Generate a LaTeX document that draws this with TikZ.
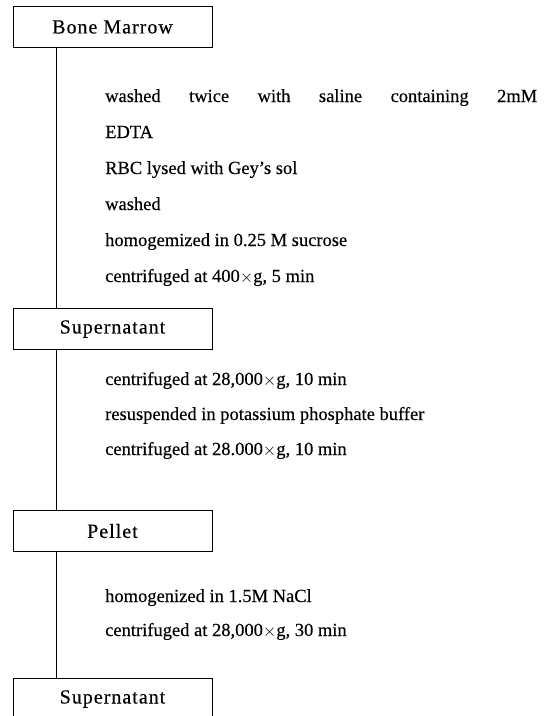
\documentclass[tikz,border=0pt]{standalone}
\usepackage{fontspec}
\setmainfont[FakeBold=0.3]{Liberation Serif}
\newfontfamily\labelfont[LetterSpace=5,FakeBold=0.3]{Liberation Serif}
\begin{document}
\begin{tikzpicture}[x=1pt,y=-1pt,
	stage/.style={draw, line width=1pt, minimum width=199pt, minimum height=41pt, inner sep=0pt, font=\labelfont\fontsize{20}{22}\selectfont},
	treat/.style={anchor=base west, inner sep=0pt, font=\fontsize{18.5}{22}\selectfont},
	flowline/.style={line width=0.6pt}]
		\clip (0,0) rectangle (549,716);
		% fractions
		\node[stage] (bm) at (112.5,27) {Bone Marrow};
		\node[stage] (sup1) at (112.5,329) {Supernatant};
		\node[stage] (pel) at (112.5,531) {Pellet};
		\node[stage] (sup2) at (112.5,699) {Supernatant};
		% treatments
		\node[treat] (t1) at (105,102) {\makebox[432pt][s]{washed twice with saline containing 2mM}};
		\node[treat] (t2) at (105,138) {EDTA};
		\node[treat] (t3) at (105,174) {RBC lysed with Gey's sol};
		\node[treat] (t4) at (105,210) {washed};
		\node[treat] (t5) at (105,246) {homogemized in 0.25 M sucrose};
		\node[treat] (t6) at (105,282) {centrifuged at 400$\times$g, 5 min};
		\node[treat] (u1) at (105,385) {centrifuged at 28,000$\times$g, 10 min};
		\node[treat] (u2) at (105,420) {resuspended in potassium phosphate buffer};
		\node[treat] (u3) at (105,455) {centrifuged at 28.000$\times$g, 10 min};
		\node[treat] (v1) at (105,602) {homogenized in 1.5M NaCl};
		\node[treat] (v2) at (105,636) {centrifuged at 28,000$\times$g, 30 min};
		% flow
		\foreach \a/\b in {bm/sup1,sup1/pel,pel/sup2}{
				\draw[flowline] ([xshift=44pt]\a.south west) -- ([xshift=44pt]\b.north west);}
	\end{tikzpicture}
\end{document}
